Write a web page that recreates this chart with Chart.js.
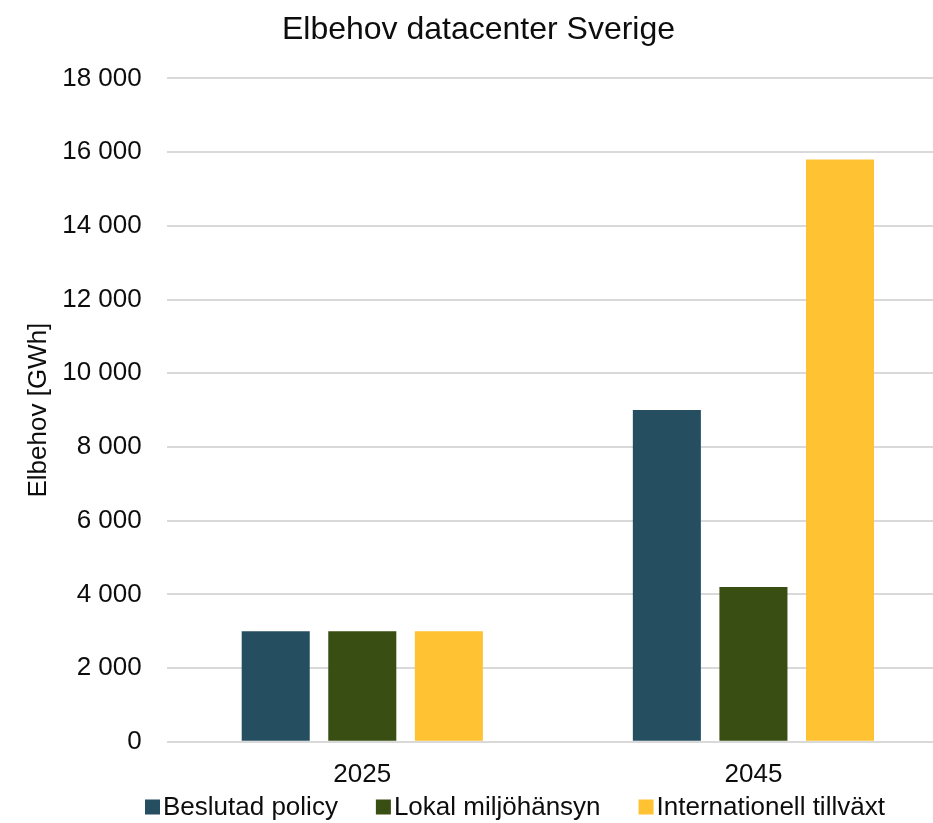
<!DOCTYPE html>
<html>
<head>
<meta charset="utf-8">
<script src="https://cdn.jsdelivr.net/npm/chart.js@4"></script>
<style>
  html, body { margin: 0; padding: 0; background: #fff; overflow: hidden; }
</style>
</head>
<body>
<canvas id="elChart" width="982" height="823"></canvas>
<script>
var years = ["2025", "2045"];
var seriesNames = ["Beslutad policy", "Lokal miljöhänsyn", "Internationell tillväxt"];
var beslutad = [3000, 9000];
var lokal = [3000, 4200];
var internationell = [3000, 15800];
var seriesColors = ["#254F60", "#384E12", "#FFC232"];

function spaced(v) {
  return String(v).replace(/\B(?=(\d{3})+(?!\d))/g, " ");
}

// legend drawn by hand so that box/text spacing matches Excel
var bottomLegend = {
  id: "bottomLegend",
  afterDraw: function(chart, args, opts) {
    var ctx = chart.ctx;
    var x = opts.startX;
    ctx.save();
    ctx.font = "26px 'Liberation Sans', Arial, sans-serif";
    ctx.textBaseline = "middle";
    ctx.textAlign = "left";
    chart.data.datasets.forEach(function(ds) {
      ctx.fillStyle = ds.backgroundColor;
      ctx.fillRect(x, opts.y - 7.5, 15, 15);
      ctx.fillStyle = "#0d0d0d";
      ctx.fillText(ds.label, x + 18, opts.y + 1);
      x += 18 + ctx.measureText(ds.label).width + 38;
    });
    ctx.restore();
  }
};

var font = { family: "'Liberation Sans', Arial, sans-serif", size: 26 };

new Chart(document.getElementById("elChart"), {
  type: "bar",
  data: {
    labels: years,
    datasets: [
      { label: seriesNames[0], data: beslutad, backgroundColor: seriesColors[0] },
      { label: seriesNames[1], data: lokal, backgroundColor: seriesColors[1] },
      { label: seriesNames[2], data: internationell, backgroundColor: seriesColors[2] }
    ]
  },
  options: {
    responsive: false,
    animation: false,
    devicePixelRatio: 1,
    categoryPercentage: 0.664,
    barPercentage: 0.786,
    layout: { padding: { left: 8, right: 33, top: 11, bottom: 24 } },
    plugins: {
      legend: { display: false },
      tooltip: { enabled: false },
      title: {
        display: true,
        text: "Elbehov datacenter Sverige",
        color: "#0d0d0d",
        font: { family: font.family, size: 32, weight: "normal" },
        padding: { top: 0, bottom: 29 }
      },
      bottomLegend: { startX: 145, y: 807 }
    },
    scales: {
      x: {
        grid: { display: false },
        border: { display: false },
        ticks: { color: "#0d0d0d", font: font, padding: 9 }
      },
      y: {
        min: 0,
        max: 18000,
        border: { display: false },
        grid: { color: "#d9d9d9", lineWidth: 2, drawTicks: false },
        ticks: {
          stepSize: 2000,
          color: "#0d0d0d",
          font: font,
          padding: 25,
          callback: function(v) { return spaced(v); }
        },
        title: {
          display: true,
          text: "Elbehov [GWh]",
          color: "#0d0d0d",
          font: font,
          padding: { top: 15, bottom: -17 }
        }
      }
    }
  },
  plugins: [bottomLegend]
});
</script>
</body>
</html>
